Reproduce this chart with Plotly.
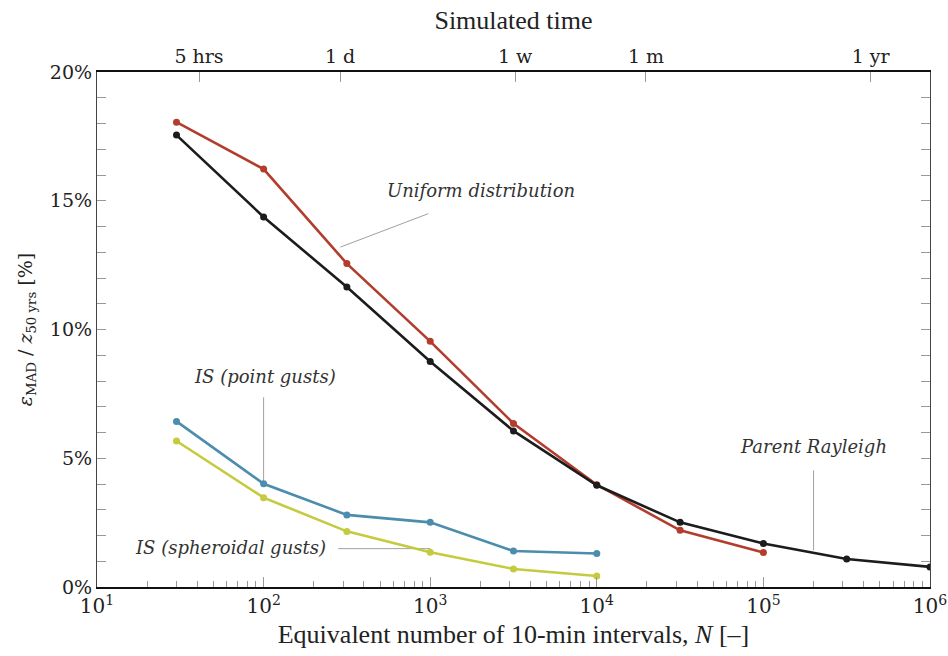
import numpy as np
import plotly.graph_objects as go

# Equivalent number of 10-min intervals
n_main = [30, 100, 316, 1000, 3162, 10000, 31623, 100000, 316228, 1000000]
n_uniform = [30, 100, 316, 1000, 3162, 10000, 31623, 100000]
n_is = [30, 100, 316, 1000, 3162, 10000]

# Relative error of the 50-year extreme [%]
parent_rayleigh = [17.55, 14.37, 11.65, 8.76, 6.06, 3.95, 2.51, 1.69, 1.09, 0.78]
uniform_dist = [18.05, 16.23, 12.56, 9.54, 6.35, 3.97, 2.20, 1.34]
is_point = [6.43, 4.01, 2.80, 2.51, 1.40, 1.30]
is_spheroidal = [5.67, 3.47, 2.16, 1.35, 0.70, 0.43]

# Bottom axis decades
decades = [10, 100, 1000, 10000, 100000, 1000000]
decade_labels = [f"10<sup>{k}</sup>" for k in range(1, 7)]

# Simulated-time axis (hours)
time_hours = [5, 24, 168, 720, 8760]
time_labels = ["5 hrs", "1 d", "1 w", "1 m", "1 yr"]

RED = "#b33d2c"
BLACK = "#1c1c1c"
BLUE = "#4c8cac"
GREEN = "#c4cb3e"

SERIF = "DejaVu Serif"
TITLE_FONT = "Liberation Serif"

fig = go.Figure()


def leader(x, y):
    fig.add_trace(go.Scatter(x=x, y=y, mode="lines",
                             line=dict(color="#a0a0a0", width=1),
                             showlegend=False, hoverinfo="skip"))


# thin leader lines from the labels to their curves
leader([10 ** 2.461, 10 ** 2.989], [13.2, 14.5])
leader([n_is[1], n_is[1]], [7.37, is_point[1]])
leader([10 ** 2.448, n_is[3]], [1.49, 1.49])
leader([2.0e5, 2.0e5], [4.53, 1.43])


def add_series(x, y, color):
    fig.add_trace(go.Scatter(
        x=x, y=y, mode="lines+markers",
        line=dict(color=color, width=2.6),
        marker=dict(color=color, size=7),
        showlegend=False, hoverinfo="x+y",
    ))


add_series(n_is, is_spheroidal, GREEN)
add_series(n_is, is_point, BLUE)
add_series(n_uniform, uniform_dist, RED)
add_series(n_main, parent_rayleigh, BLACK)

# invisible trace that carries the top time axis
fig.add_trace(go.Scatter(x=time_hours, y=[None] * len(time_hours), xaxis="x2",
                         mode="markers", showlegend=False, hoverinfo="skip"))

ann_font = dict(family=SERIF, size=18, color="#333333")


def note(text, x, y):
    fig.add_annotation(x=x, y=y, xref="x", yref="y", text=f"<i>{text}</i>",
                       showarrow=False, font=ann_font)


note("Uniform distribution", 3.305, 15.41)
note("IS (point gusts)", 2.01, 8.18)
note("IS (spheroidal gusts)", 1.803, 1.55)
note("Parent Rayleigh", 5.303, 5.44)

tick_font = dict(family=SERIF, size=19, color="#222222")
title_font = dict(family=TITLE_FONT, size=26, color="#222222")

fig.update_layout(
    width=948, height=656,
    margin=dict(l=97, r=18, t=72, b=69),
    paper_bgcolor="white", plot_bgcolor="white",
    xaxis=dict(
        type="log", range=[0.9999, 6.0001], automargin=False,
        tickvals=decades, ticktext=decade_labels,
        showgrid=False, zeroline=False,
        showline=True, linecolor="#111111", linewidth=2, mirror=True,
        ticks="inside", ticklen=10, tickcolor="#999999", tickwidth=1,
        minor=dict(ticks="inside", ticklen=6, tickcolor="#999999", dtick="D1", showgrid=False),
        tickfont=dict(family=SERIF, size=20, color="#222222"),
        title=dict(text="Equivalent number of 10-min intervals, <i>N</i> [–]",
                   font=title_font, standoff=8),
    ),
    xaxis2=dict(
        type="log", overlaying="x", side="top", anchor="y", automargin=False,
        range=[0.2063, 4.229],
        tickvals=time_hours, ticktext=time_labels,
        showgrid=False, zeroline=False, showline=False,
        ticks="inside", ticklen=10, tickcolor="#999999", tickwidth=1,
        ticklabelstandoff=4,
        tickfont=tick_font,
        title=dict(text="Simulated time", font=title_font, standoff=8),
    ),
    yaxis=dict(
        range=[0, 20], dtick=5, ticksuffix="%", automargin=False,
        showgrid=False, zeroline=False,
        showline=True, linecolor="#444444", linewidth=1.2, mirror="allticks",
        ticks="inside", ticklen=9, tickcolor="#999999", tickwidth=1,
        minor=dict(ticks="inside", ticklen=6, tickcolor="#999999", dtick=1, showgrid=False),
        tickfont=tick_font,
        title=dict(text="<i>ε</i><sub>MAD</sub> / <i>z</i><sub>50 yrs</sub> [%]",
                   font=dict(family=SERIF, size=19, color="#222222"), standoff=12),
    ),
)

fig.write_html("out.html")
